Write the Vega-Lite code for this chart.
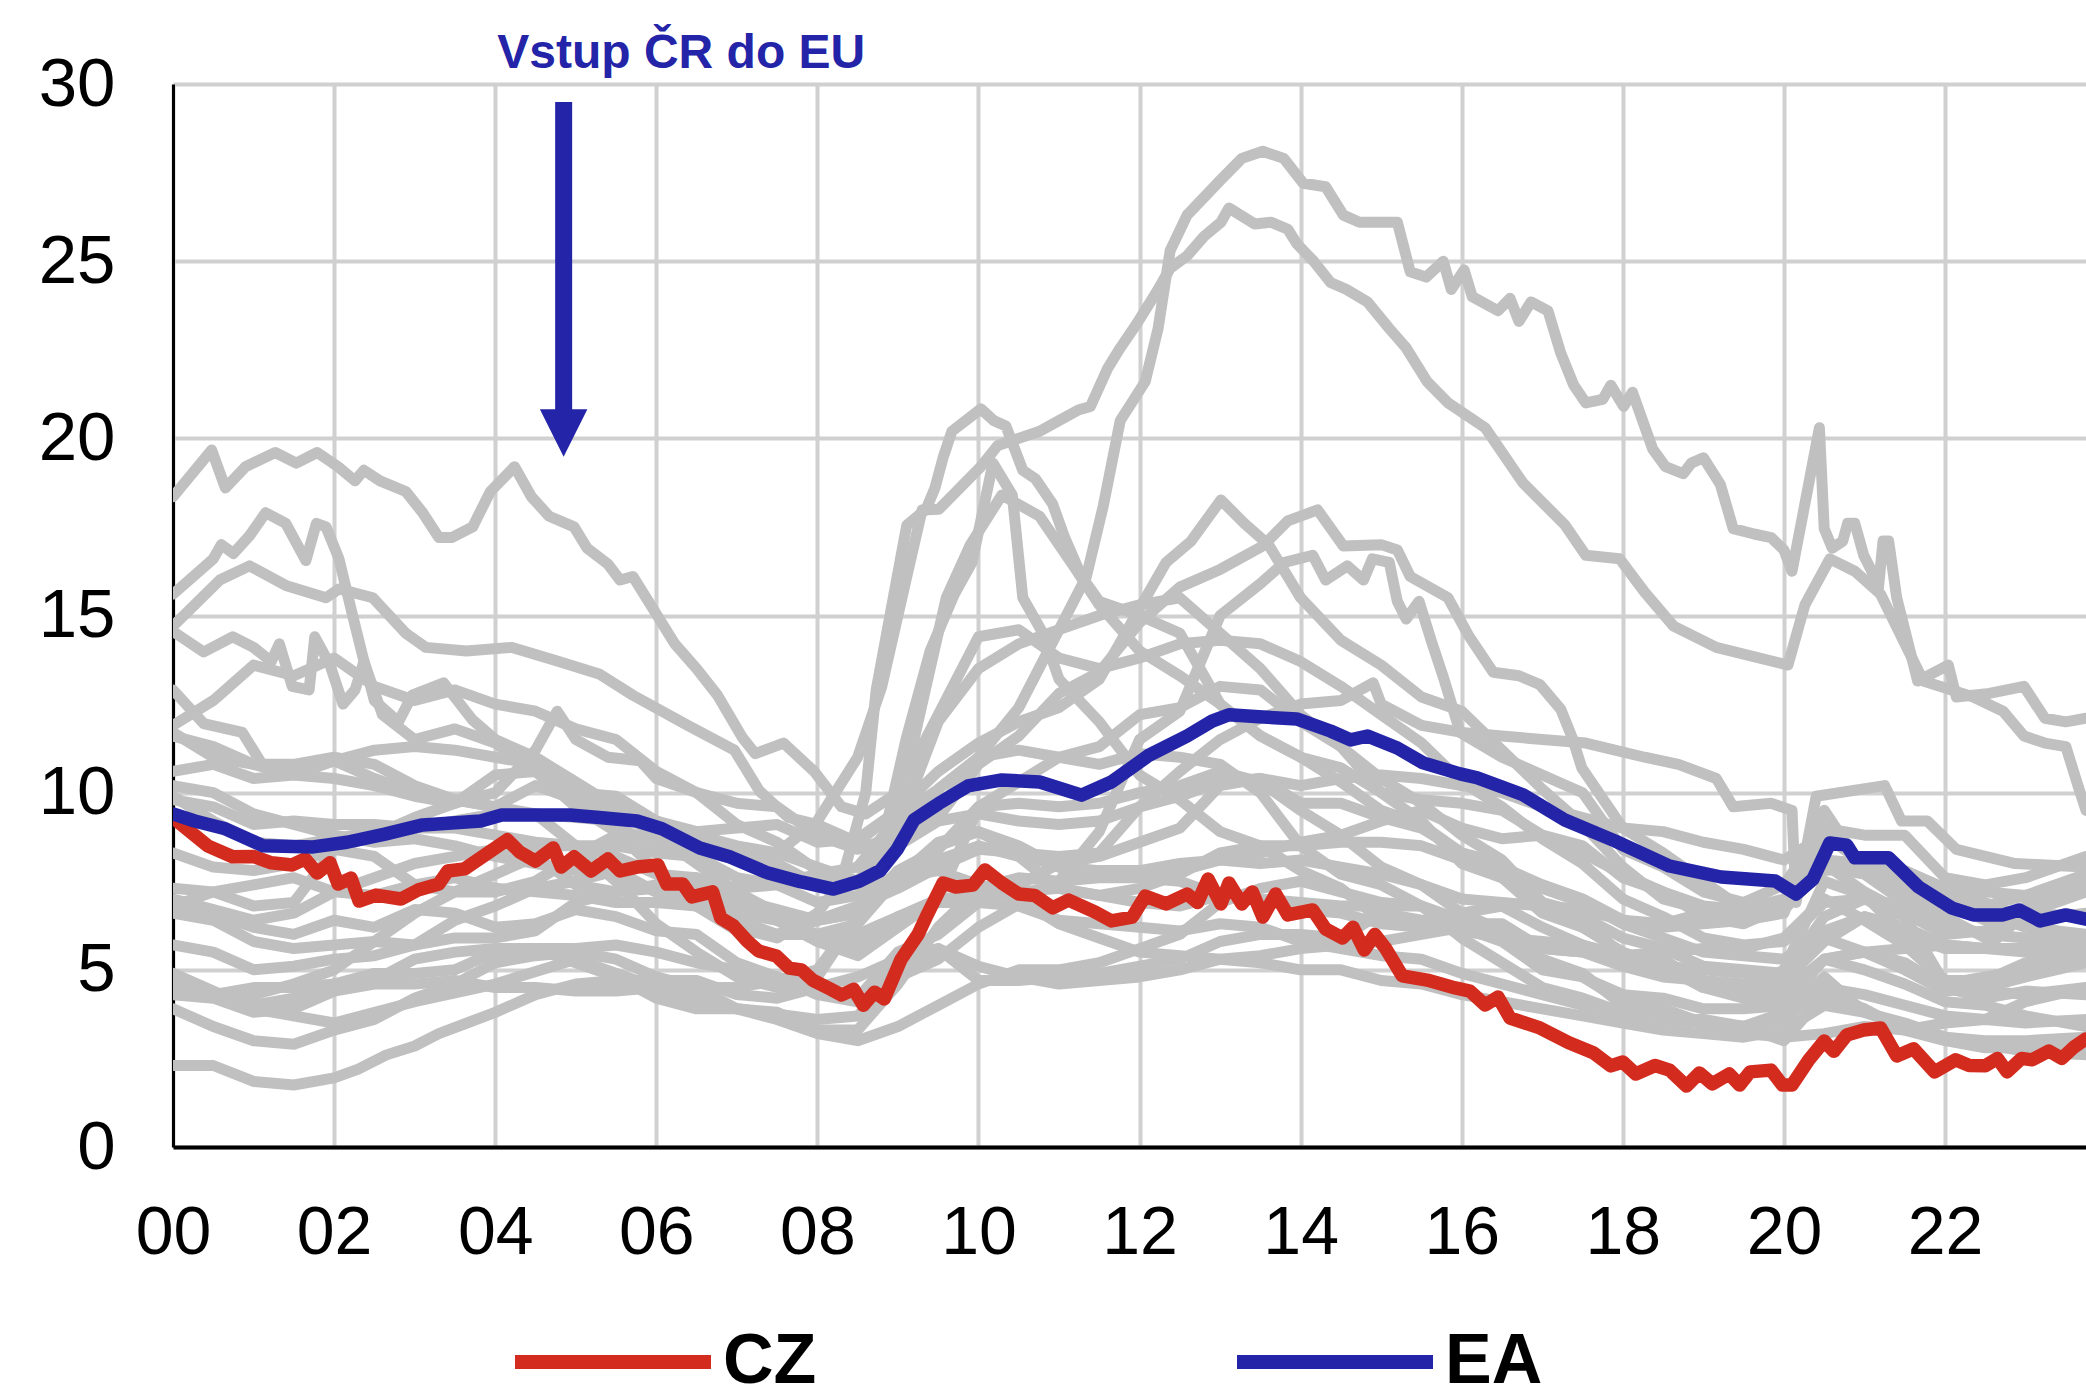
{
"$schema":"https://vega.github.io/schema/vega-lite/v6.json",
"width":1913,"height":1063,
"autosize":{"type":"none"},
"padding":{"left":173,"top":84,"right":0,"bottom":242},
"background":"white",
"config":{"view":{"stroke":null},"font":"Liberation Sans"},
"datasets":{
"gray":[
{"c":"SK","t":2000,"v":18.35},{"c":"SK","t":2000.48,"v":19.67},{"c":"SK","t":2000.65,"v":18.6},{"c":"SK","t":2000.9,"v":19.2},{"c":"SK","t":2001.27,"v":19.6},{"c":"SK","t":2001.53,"v":19.3},{"c":"SK","t":2001.79,"v":19.6},{"c":"SK","t":2002.05,"v":19.2},{"c":"SK","t":2002.26,"v":18.8},{"c":"SK","t":2002.37,"v":19.1},{"c":"SK","t":2002.57,"v":18.8},{"c":"SK","t":2002.89,"v":18.5},{"c":"SK","t":2003.1,"v":17.9},{"c":"SK","t":2003.3,"v":17.2},{"c":"SK","t":2003.46,"v":17.2},{"c":"SK","t":2003.72,"v":17.5},{"c":"SK","t":2003.94,"v":18.5},{"c":"SK","t":2004.24,"v":19.2},{"c":"SK","t":2004.45,"v":18.35},{"c":"SK","t":2004.67,"v":17.8},{"c":"SK","t":2004.98,"v":17.5},{"c":"SK","t":2005.14,"v":16.9},{"c":"SK","t":2005.4,"v":16.45},{"c":"SK","t":2005.55,"v":16.0},{"c":"SK","t":2005.71,"v":16.1},{"c":"SK","t":2005.97,"v":15.15},{"c":"SK","t":2006.23,"v":14.2},{"c":"SK","t":2006.5,"v":13.5},{"c":"SK","t":2006.76,"v":12.75},{"c":"SK","t":2007.07,"v":11.55},{"c":"SK","t":2007.23,"v":11.1},{"c":"SK","t":2007.58,"v":11.4},{"c":"SK","t":2007.96,"v":10.6},{"c":"SK","t":2008.3,"v":9.6},{"c":"SK","t":2008.6,"v":9.4},{"c":"SK","t":2009,"v":10},{"c":"SK","t":2009.5,"v":12.2},{"c":"SK","t":2010,"v":14.4},{"c":"SK","t":2010.5,"v":14.6},{"c":"SK","t":2011,"v":13.8},{"c":"SK","t":2011.5,"v":13.5},{"c":"SK","t":2012,"v":13.8},{"c":"SK","t":2012.5,"v":14.2},{"c":"SK","t":2013,"v":14.3},{"c":"SK","t":2013.5,"v":14.2},{"c":"SK","t":2014,"v":13.7},{"c":"SK","t":2014.5,"v":13},{"c":"SK","t":2015,"v":12.2},{"c":"SK","t":2015.5,"v":11.4},{"c":"SK","t":2016,"v":10.3},{"c":"SK","t":2016.5,"v":9.6},{"c":"SK","t":2017,"v":8.7},{"c":"SK","t":2017.5,"v":8},{"c":"SK","t":2018,"v":7},{"c":"SK","t":2018.5,"v":6.5},{"c":"SK","t":2019,"v":5.9},{"c":"SK","t":2019.5,"v":5.7},{"c":"SK","t":2020,"v":5.8},{"c":"SK","t":2020.5,"v":6.9},{"c":"SK","t":2021,"v":7},{"c":"SK","t":2021.5,"v":6.8},{"c":"SK","t":2022,"v":6.3},{"c":"SK","t":2022.5,"v":6},{"c":"SK","t":2023,"v":5.9},{"c":"SK","t":2023.75,"v":5.8},
{"c":"BG","t":2000,"v":15.6},{"c":"BG","t":2000.5,"v":16.6},{"c":"BG","t":2000.6,"v":17.0},{"c":"BG","t":2000.75,"v":16.75},{"c":"BG","t":2000.95,"v":17.25},{"c":"BG","t":2001.15,"v":17.9},{"c":"BG","t":2001.4,"v":17.6},{"c":"BG","t":2001.65,"v":16.55},{"c":"BG","t":2001.78,"v":17.6},{"c":"BG","t":2001.9,"v":17.5},{"c":"BG","t":2002.06,"v":16.6},{"c":"BG","t":2002.23,"v":15.0},{"c":"BG","t":2002.35,"v":13.9},{"c":"BG","t":2002.5,"v":12.6},{"c":"BG","t":2002.8,"v":12.0},{"c":"BG","t":2002.97,"v":12.75},{"c":"BG","t":2003.36,"v":13.1},{"c":"BG","t":2003.72,"v":12.05},{"c":"BG","t":2004,"v":11.5},{"c":"BG","t":2004.5,"v":11.0},{"c":"BG","t":2005,"v":10.3},{"c":"BG","t":2005.5,"v":9.6},{"c":"BG","t":2006,"v":8.9},{"c":"BG","t":2006.5,"v":8.2},{"c":"BG","t":2007,"v":7.1},{"c":"BG","t":2007.5,"v":6.4},{"c":"BG","t":2008,"v":5.8},{"c":"BG","t":2008.5,"v":5.4},{"c":"BG","t":2009,"v":6.2},{"c":"BG","t":2009.5,"v":7.0},{"c":"BG","t":2010,"v":9.6},{"c":"BG","t":2010.5,"v":10.3},{"c":"BG","t":2011,"v":11.0},{"c":"BG","t":2011.5,"v":11.3},{"c":"BG","t":2012,"v":12.2},{"c":"BG","t":2012.5,"v":12.4},{"c":"BG","t":2013,"v":13.0},{"c":"BG","t":2013.5,"v":12.9},{"c":"BG","t":2014,"v":12.0},{"c":"BG","t":2014.5,"v":11.3},{"c":"BG","t":2015,"v":10.0},{"c":"BG","t":2015.5,"v":9.2},{"c":"BG","t":2016,"v":8.0},{"c":"BG","t":2016.5,"v":7.6},{"c":"BG","t":2017,"v":6.6},{"c":"BG","t":2017.5,"v":6.2},{"c":"BG","t":2018,"v":5.5},{"c":"BG","t":2018.5,"v":5.1},{"c":"BG","t":2019,"v":4.5},{"c":"BG","t":2019.5,"v":4.2},{"c":"BG","t":2020,"v":4.2},{"c":"BG","t":2020.5,"v":5.3},{"c":"BG","t":2021,"v":5.5},{"c":"BG","t":2021.5,"v":5.2},{"c":"BG","t":2022,"v":4.5},{"c":"BG","t":2022.5,"v":4.2},{"c":"BG","t":2023,"v":4.4},{"c":"BG","t":2023.75,"v":4.3},
{"c":"LT","t":2000,"v":14.7},{"c":"LT","t":2000.58,"v":16.0},{"c":"LT","t":2000.95,"v":16.4},{"c":"LT","t":2001.4,"v":15.85},{"c":"LT","t":2001.9,"v":15.5},{"c":"LT","t":2002.06,"v":15.75},{"c":"LT","t":2002.48,"v":15.5},{"c":"LT","t":2002.89,"v":14.5},{"c":"LT","t":2003.14,"v":14.1},{"c":"LT","t":2003.64,"v":14.0},{"c":"LT","t":2004.21,"v":14.1},{"c":"LT","t":2004.79,"v":13.7},{"c":"LT","t":2005.29,"v":13.35},{"c":"LT","t":2005.71,"v":12.75},{"c":"LT","t":2006.39,"v":11.9},{"c":"LT","t":2006.97,"v":11.2},{"c":"LT","t":2007.28,"v":10.05},{"c":"LT","t":2007.64,"v":9.3},{"c":"LT","t":2008,"v":9.1},{"c":"LT","t":2008.5,"v":8.6},{"c":"LT","t":2009,"v":9.5},{"c":"LT","t":2009.3,"v":12.5},{"c":"LT","t":2009.6,"v":15.5},{"c":"LT","t":2009.9,"v":17.0},{"c":"LT","t":2010.29,"v":18.4},{"c":"LT","t":2010.76,"v":17.8},{"c":"LT","t":2011.18,"v":16.4},{"c":"LT","t":2011.5,"v":15.3},{"c":"LT","t":2012,"v":14.0},{"c":"LT","t":2012.5,"v":13.3},{"c":"LT","t":2013,"v":12.5},{"c":"LT","t":2013.5,"v":11.6},{"c":"LT","t":2014,"v":11.0},{"c":"LT","t":2014.5,"v":10.3},{"c":"LT","t":2015,"v":9.5},{"c":"LT","t":2015.5,"v":9.1},{"c":"LT","t":2016,"v":8.3},{"c":"LT","t":2016.5,"v":7.9},{"c":"LT","t":2017,"v":7.4},{"c":"LT","t":2017.5,"v":7.0},{"c":"LT","t":2018,"v":6.4},{"c":"LT","t":2018.5,"v":6.2},{"c":"LT","t":2019,"v":6.3},{"c":"LT","t":2019.5,"v":6.4},{"c":"LT","t":2020,"v":6.6},{"c":"LT","t":2020.5,"v":9.5},{"c":"LT","t":2021,"v":7.8},{"c":"LT","t":2021.5,"v":7.0},{"c":"LT","t":2022,"v":6.5},{"c":"LT","t":2022.5,"v":5.9},{"c":"LT","t":2023,"v":6.8},{"c":"LT","t":2023.75,"v":7.3},
{"c":"LV","t":2000,"v":14.55},{"c":"LV","t":2000.38,"v":13.97},{"c":"LV","t":2000.74,"v":14.4},{"c":"LV","t":2001,"v":14.1},{"c":"LV","t":2001.22,"v":13.7},{"c":"LV","t":2001.32,"v":14.2},{"c":"LV","t":2001.48,"v":13.0},{"c":"LV","t":2001.69,"v":12.9},{"c":"LV","t":2001.76,"v":14.4},{"c":"LV","t":2001.95,"v":13.6},{"c":"LV","t":2002.11,"v":12.5},{"c":"LV","t":2002.26,"v":12.9},{"c":"LV","t":2002.37,"v":13.7},{"c":"LV","t":2002.6,"v":12.2},{"c":"LV","t":2003,"v":11.5},{"c":"LV","t":2003.5,"v":11.8},{"c":"LV","t":2004,"v":11.4},{"c":"LV","t":2004.5,"v":10.6},{"c":"LV","t":2005,"v":9.6},{"c":"LV","t":2005.5,"v":8.9},{"c":"LV","t":2006,"v":7.8},{"c":"LV","t":2006.5,"v":6.8},{"c":"LV","t":2007,"v":6.2},{"c":"LV","t":2007.5,"v":5.9},{"c":"LV","t":2008,"v":6.6},{"c":"LV","t":2008.3,"v":7.5},{"c":"LV","t":2008.6,"v":10.0},{"c":"LV","t":2008.73,"v":12.9},{"c":"LV","t":2009.04,"v":16.7},{"c":"LV","t":2009.11,"v":17.55},{"c":"LV","t":2009.35,"v":18.0},{"c":"LV","t":2009.46,"v":18.6},{"c":"LV","t":2009.56,"v":19.45},{"c":"LV","t":2009.67,"v":20.2},{"c":"LV","t":2010.03,"v":20.83},{"c":"LV","t":2010.19,"v":20.5},{"c":"LV","t":2010.34,"v":20.35},{"c":"LV","t":2010.55,"v":19.1},{"c":"LV","t":2010.71,"v":18.85},{"c":"LV","t":2010.92,"v":18.15},{"c":"LV","t":2011.07,"v":17.2},{"c":"LV","t":2011.28,"v":16.1},{"c":"LV","t":2011.5,"v":15.4},{"c":"LV","t":2012,"v":15.0},{"c":"LV","t":2012.5,"v":14.5},{"c":"LV","t":2013,"v":12.5},{"c":"LV","t":2013.5,"v":11.6},{"c":"LV","t":2014,"v":11.0},{"c":"LV","t":2014.5,"v":10.7},{"c":"LV","t":2015,"v":10.0},{"c":"LV","t":2015.5,"v":9.8},{"c":"LV","t":2016,"v":9.7},{"c":"LV","t":2016.5,"v":9.5},{"c":"LV","t":2017,"v":8.8},{"c":"LV","t":2017.5,"v":8.5},{"c":"LV","t":2018,"v":7.6},{"c":"LV","t":2018.5,"v":7.2},{"c":"LV","t":2019,"v":6.5},{"c":"LV","t":2019.5,"v":6.3},{"c":"LV","t":2020,"v":6.8},{"c":"LV","t":2020.5,"v":8.8},{"c":"LV","t":2021,"v":8.0},{"c":"LV","t":2021.5,"v":7.3},{"c":"LV","t":2022,"v":7.1},{"c":"LV","t":2022.5,"v":6.9},{"c":"LV","t":2023,"v":6.4},{"c":"LV","t":2023.75,"v":6.6},
{"c":"EE","t":2000,"v":12.9},{"c":"EE","t":2000.38,"v":11.95},{"c":"EE","t":2000.86,"v":11.7},{"c":"EE","t":2001.12,"v":10.75},{"c":"EE","t":2001.64,"v":10.65},{"c":"EE","t":2002,"v":10.9},{"c":"EE","t":2002.5,"v":10.4},{"c":"EE","t":2003,"v":10.0},{"c":"EE","t":2003.5,"v":9.8},{"c":"EE","t":2004,"v":9.6},{"c":"EE","t":2004.5,"v":9.4},{"c":"EE","t":2005,"v":8.5},{"c":"EE","t":2005.5,"v":7.5},{"c":"EE","t":2006,"v":6.3},{"c":"EE","t":2006.5,"v":5.5},{"c":"EE","t":2007,"v":4.8},{"c":"EE","t":2007.5,"v":4.5},{"c":"EE","t":2008,"v":4.8},{"c":"EE","t":2008.5,"v":6.5},{"c":"EE","t":2008.8,"v":8.5},{"c":"EE","t":2009.1,"v":11.5},{"c":"EE","t":2009.4,"v":14.0},{"c":"EE","t":2009.7,"v":15.6},{"c":"EE","t":2009.92,"v":16.5},{"c":"EE","t":2010.18,"v":19.3},{"c":"EE","t":2010.42,"v":18.4},{"c":"EE","t":2010.55,"v":15.5},{"c":"EE","t":2010.8,"v":14.5},{"c":"EE","t":2011,"v":13.2},{"c":"EE","t":2011.5,"v":12.0},{"c":"EE","t":2012,"v":10.5},{"c":"EE","t":2012.5,"v":9.8},{"c":"EE","t":2013,"v":8.9},{"c":"EE","t":2013.5,"v":8.5},{"c":"EE","t":2014,"v":7.8},{"c":"EE","t":2014.5,"v":7.3},{"c":"EE","t":2015,"v":6.4},{"c":"EE","t":2015.5,"v":6.2},{"c":"EE","t":2016,"v":6.6},{"c":"EE","t":2016.5,"v":6.8},{"c":"EE","t":2017,"v":6.2},{"c":"EE","t":2017.5,"v":5.7},{"c":"EE","t":2018,"v":5.4},{"c":"EE","t":2018.5,"v":5.3},{"c":"EE","t":2019,"v":4.6},{"c":"EE","t":2019.5,"v":4.4},{"c":"EE","t":2020,"v":5.0},{"c":"EE","t":2020.5,"v":7.5},{"c":"EE","t":2021,"v":7.1},{"c":"EE","t":2021.5,"v":6.0},{"c":"EE","t":2022,"v":5.6},{"c":"EE","t":2022.5,"v":5.6},{"c":"EE","t":2023,"v":6.6},{"c":"EE","t":2023.75,"v":7.2},
{"c":"GR","t":2000,"v":11.6},{"c":"GR","t":2000.5,"v":11.3},{"c":"GR","t":2001,"v":10.8},{"c":"GR","t":2001.5,"v":10.5},{"c":"GR","t":2002,"v":10.4},{"c":"GR","t":2002.5,"v":10.2},{"c":"GR","t":2003,"v":9.9},{"c":"GR","t":2003.5,"v":9.7},{"c":"GR","t":2004,"v":10.5},{"c":"GR","t":2004.5,"v":10.6},{"c":"GR","t":2005,"v":10.0},{"c":"GR","t":2005.5,"v":9.9},{"c":"GR","t":2006,"v":9.2},{"c":"GR","t":2006.5,"v":8.8},{"c":"GR","t":2007,"v":8.5},{"c":"GR","t":2007.5,"v":8.3},{"c":"GR","t":2008,"v":7.9},{"c":"GR","t":2008.5,"v":7.5},{"c":"GR","t":2009,"v":8.9},{"c":"GR","t":2009.5,"v":9.5},{"c":"GR","t":2010,"v":11.0},{"c":"GR","t":2010.5,"v":12.4},{"c":"GR","t":2011,"v":14.6},{"c":"GR","t":2011.34,"v":16.1},{"c":"GR","t":2011.55,"v":18.1},{"c":"GR","t":2011.76,"v":20.5},{"c":"GR","t":2012.07,"v":21.6},{"c":"GR","t":2012.23,"v":23.1},{"c":"GR","t":2012.38,"v":25.3},{"c":"GR","t":2012.59,"v":26.3},{"c":"GR","t":2012.8,"v":26.8},{"c":"GR","t":2013.01,"v":27.3},{"c":"GR","t":2013.27,"v":27.9},{"c":"GR","t":2013.53,"v":28.1},{"c":"GR","t":2013.79,"v":27.9},{"c":"GR","t":2014.03,"v":27.2},{"c":"GR","t":2014.31,"v":27.1},{"c":"GR","t":2014.53,"v":26.3},{"c":"GR","t":2014.73,"v":26.1},{"c":"GR","t":2015.2,"v":26.1},{"c":"GR","t":2015.36,"v":24.7},{"c":"GR","t":2015.56,"v":24.55},{"c":"GR","t":2015.77,"v":25.0},{"c":"GR","t":2015.87,"v":24.2},{"c":"GR","t":2016.03,"v":24.75},{"c":"GR","t":2016.13,"v":24.0},{"c":"GR","t":2016.45,"v":23.6},{"c":"GR","t":2016.6,"v":23.95},{"c":"GR","t":2016.71,"v":23.3},{"c":"GR","t":2016.86,"v":23.85},{"c":"GR","t":2017.07,"v":23.6},{"c":"GR","t":2017.23,"v":22.4},{"c":"GR","t":2017.39,"v":21.5},{"c":"GR","t":2017.54,"v":21.0},{"c":"GR","t":2017.75,"v":21.1},{"c":"GR","t":2017.85,"v":21.5},{"c":"GR","t":2018.01,"v":20.9},{"c":"GR","t":2018.12,"v":21.3},{"c":"GR","t":2018.37,"v":19.7},{"c":"GR","t":2018.53,"v":19.2},{"c":"GR","t":2018.75,"v":19.0},{"c":"GR","t":2018.85,"v":19.3},{"c":"GR","t":2019,"v":19.45},{"c":"GR","t":2019.21,"v":18.7},{"c":"GR","t":2019.37,"v":17.45},{"c":"GR","t":2019.63,"v":17.3},{"c":"GR","t":2019.84,"v":17.2},{"c":"GR","t":2020,"v":16.85},{"c":"GR","t":2020.1,"v":16.25},{"c":"GR","t":2020.26,"v":18.15},{"c":"GR","t":2020.44,"v":20.3},{"c":"GR","t":2020.5,"v":17.45},{"c":"GR","t":2020.6,"v":16.9},{"c":"GR","t":2020.73,"v":17.1},{"c":"GR","t":2020.79,"v":17.6},{"c":"GR","t":2020.88,"v":17.6},{"c":"GR","t":2020.99,"v":16.7},{"c":"GR","t":2021.09,"v":16.25},{"c":"GR","t":2021.17,"v":15.7},{"c":"GR","t":2021.23,"v":17.1},{"c":"GR","t":2021.3,"v":17.1},{"c":"GR","t":2021.4,"v":15.5},{"c":"GR","t":2021.66,"v":13.15},{"c":"GR","t":2022.04,"v":13.6},{"c":"GR","t":2022.14,"v":12.7},{"c":"GR","t":2022.55,"v":12.8},{"c":"GR","t":2022.98,"v":13.0},{"c":"GR","t":2023.24,"v":12.1},{"c":"GR","t":2023.5,"v":12.0},{"c":"GR","t":2023.75,"v":12.1},
{"c":"ES","t":2000,"v":10.6},{"c":"ES","t":2000.5,"v":10.8},{"c":"ES","t":2001,"v":10.4},{"c":"ES","t":2001.5,"v":10.5},{"c":"ES","t":2002,"v":10.9},{"c":"ES","t":2002.5,"v":11.2},{"c":"ES","t":2003,"v":11.3},{"c":"ES","t":2003.5,"v":11.2},{"c":"ES","t":2004,"v":11.0},{"c":"ES","t":2004.5,"v":10.8},{"c":"ES","t":2005,"v":9.8},{"c":"ES","t":2005.5,"v":9.0},{"c":"ES","t":2006,"v":8.6},{"c":"ES","t":2006.5,"v":8.4},{"c":"ES","t":2007,"v":8.1},{"c":"ES","t":2007.5,"v":8.3},{"c":"ES","t":2008,"v":9.2},{"c":"ES","t":2008.5,"v":11.0},{"c":"ES","t":2008.8,"v":13.0},{"c":"ES","t":2009.1,"v":16.0},{"c":"ES","t":2009.3,"v":17.98},{"c":"ES","t":2009.51,"v":18.0},{"c":"ES","t":2009.77,"v":18.6},{"c":"ES","t":2010.03,"v":19.2},{"c":"ES","t":2010.24,"v":19.8},{"c":"ES","t":2010.76,"v":20.2},{"c":"ES","t":2010.92,"v":20.4},{"c":"ES","t":2011.24,"v":20.8},{"c":"ES","t":2011.39,"v":20.9},{"c":"ES","t":2011.6,"v":21.96},{"c":"ES","t":2011.76,"v":22.55},{"c":"ES","t":2011.97,"v":23.25},{"c":"ES","t":2012.23,"v":24.2},{"c":"ES","t":2012.38,"v":24.8},{"c":"ES","t":2012.59,"v":25.15},{"c":"ES","t":2012.8,"v":25.7},{"c":"ES","t":2013.01,"v":26.1},{"c":"ES","t":2013.11,"v":26.5},{"c":"ES","t":2013.43,"v":26.05},{"c":"ES","t":2013.63,"v":26.1},{"c":"ES","t":2013.84,"v":25.9},{"c":"ES","t":2013.95,"v":25.5},{"c":"ES","t":2014.16,"v":25.0},{"c":"ES","t":2014.37,"v":24.4},{"c":"ES","t":2014.57,"v":24.2},{"c":"ES","t":2014.83,"v":23.85},{"c":"ES","t":2015.1,"v":23.1},{"c":"ES","t":2015.31,"v":22.55},{"c":"ES","t":2015.57,"v":21.6},{"c":"ES","t":2015.83,"v":21.0},{"c":"ES","t":2016.29,"v":20.3},{"c":"ES","t":2016.76,"v":18.74},{"c":"ES","t":2017.28,"v":17.56},{"c":"ES","t":2017.54,"v":16.7},{"c":"ES","t":2017.96,"v":16.6},{"c":"ES","t":2018.27,"v":15.66},{"c":"ES","t":2018.63,"v":14.7},{"c":"ES","t":2019.16,"v":14.1},{"c":"ES","t":2020.05,"v":13.6},{"c":"ES","t":2020.26,"v":15.3},{"c":"ES","t":2020.57,"v":16.6},{"c":"ES","t":2020.88,"v":16.25},{"c":"ES","t":2021.2,"v":15.6},{"c":"ES","t":2021.73,"v":13.15},{"c":"ES","t":2022.35,"v":12.7},{"c":"ES","t":2022.72,"v":12.3},{"c":"ES","t":2022.98,"v":11.6},{"c":"ES","t":2023.24,"v":11.4},{"c":"ES","t":2023.5,"v":11.3},{"c":"ES","t":2023.65,"v":10.2},{"c":"ES","t":2023.75,"v":9.5},
{"c":"HR","t":2000,"v":11.9},{"c":"HR","t":2000.5,"v":12.6},{"c":"HR","t":2001,"v":13.6},{"c":"HR","t":2001.5,"v":13.3},{"c":"HR","t":2002,"v":13.8},{"c":"HR","t":2002.5,"v":13.0},{"c":"HR","t":2003,"v":12.6},{"c":"HR","t":2003.5,"v":12.9},{"c":"HR","t":2004,"v":12.5},{"c":"HR","t":2004.5,"v":12.3},{"c":"HR","t":2005,"v":11.8},{"c":"HR","t":2005.5,"v":11.5},{"c":"HR","t":2006,"v":10.6},{"c":"HR","t":2006.5,"v":10.0},{"c":"HR","t":2007,"v":9.7},{"c":"HR","t":2007.5,"v":9.6},{"c":"HR","t":2008,"v":8.8},{"c":"HR","t":2008.5,"v":8.4},{"c":"HR","t":2009,"v":8.8},{"c":"HR","t":2009.5,"v":9.3},{"c":"HR","t":2010,"v":10.8},{"c":"HR","t":2010.5,"v":11.6},{"c":"HR","t":2011,"v":12.8},{"c":"HR","t":2011.5,"v":13.4},{"c":"HR","t":2012,"v":14.8},{"c":"HR","t":2012.5,"v":15.8},{"c":"HR","t":2013,"v":16.3},{"c":"HR","t":2013.53,"v":16.96},{"c":"HR","t":2013.84,"v":17.67},{"c":"HR","t":2014.21,"v":17.98},{"c":"HR","t":2014.53,"v":16.96},{"c":"HR","t":2015,"v":17.0},{"c":"HR","t":2015.2,"v":16.85},{"c":"HR","t":2015.36,"v":16.1},{"c":"HR","t":2015.83,"v":15.5},{"c":"HR","t":2016.08,"v":14.45},{"c":"HR","t":2016.39,"v":13.4},{"c":"HR","t":2016.71,"v":13.3},{"c":"HR","t":2016.97,"v":13.05},{"c":"HR","t":2017.23,"v":12.35},{"c":"HR","t":2017.38,"v":11.5},{"c":"HR","t":2017.49,"v":10.7},{"c":"HR","t":2017.64,"v":10.2},{"c":"HR","t":2018,"v":9.0},{"c":"HR","t":2018.5,"v":8.3},{"c":"HR","t":2019,"v":7.5},{"c":"HR","t":2019.5,"v":6.7},{"c":"HR","t":2020,"v":6.8},{"c":"HR","t":2020.5,"v":7.8},{"c":"HR","t":2021,"v":7.9},{"c":"HR","t":2021.5,"v":7.3},{"c":"HR","t":2022,"v":6.9},{"c":"HR","t":2022.5,"v":6.6},{"c":"HR","t":2023,"v":6.2},{"c":"HR","t":2023.75,"v":6.0},
{"c":"PT","t":2000,"v":4.6},{"c":"PT","t":2000.5,"v":4.3},{"c":"PT","t":2001,"v":4.3},{"c":"PT","t":2001.5,"v":4.6},{"c":"PT","t":2002,"v":5.0},{"c":"PT","t":2002.5,"v":5.8},{"c":"PT","t":2003,"v":6.6},{"c":"PT","t":2003.5,"v":7.2},{"c":"PT","t":2004,"v":7.2},{"c":"PT","t":2004.5,"v":7.5},{"c":"PT","t":2005,"v":8.2},{"c":"PT","t":2005.5,"v":8.8},{"c":"PT","t":2006,"v":8.6},{"c":"PT","t":2006.5,"v":8.9},{"c":"PT","t":2007,"v":9.0},{"c":"PT","t":2007.5,"v":9.1},{"c":"PT","t":2008,"v":8.6},{"c":"PT","t":2008.5,"v":8.7},{"c":"PT","t":2009,"v":9.5},{"c":"PT","t":2009.5,"v":10.6},{"c":"PT","t":2010,"v":11.4},{"c":"PT","t":2010.5,"v":12.0},{"c":"PT","t":2011,"v":12.4},{"c":"PT","t":2011.5,"v":13.2},{"c":"PT","t":2012,"v":15.2},{"c":"PT","t":2012.33,"v":16.5},{"c":"PT","t":2012.64,"v":17.1},{"c":"PT","t":2013.01,"v":18.26},{"c":"PT","t":2013.3,"v":17.6},{"c":"PT","t":2013.6,"v":17.0},{"c":"PT","t":2014,"v":15.5},{"c":"PT","t":2014.5,"v":14.3},{"c":"PT","t":2015,"v":13.6},{"c":"PT","t":2015.5,"v":12.7},{"c":"PT","t":2016,"v":12.3},{"c":"PT","t":2016.5,"v":11.2},{"c":"PT","t":2017,"v":10.1},{"c":"PT","t":2017.5,"v":9.1},{"c":"PT","t":2018,"v":7.9},{"c":"PT","t":2018.5,"v":7.0},{"c":"PT","t":2019,"v":6.7},{"c":"PT","t":2019.5,"v":6.5},{"c":"PT","t":2020,"v":6.7},{"c":"PT","t":2020.5,"v":8.0},{"c":"PT","t":2021,"v":7.2},{"c":"PT","t":2021.5,"v":6.6},{"c":"PT","t":2022,"v":6.0},{"c":"PT","t":2022.5,"v":6.1},{"c":"PT","t":2023,"v":6.6},{"c":"PT","t":2023.75,"v":6.5},
{"c":"CY","t":2000,"v":4.9},{"c":"CY","t":2001,"v":3.9},{"c":"CY","t":2002,"v":3.5},{"c":"CY","t":2003,"v":4.1},{"c":"CY","t":2004,"v":4.6},{"c":"CY","t":2005,"v":5.3},{"c":"CY","t":2006,"v":4.5},{"c":"CY","t":2007,"v":3.9},{"c":"CY","t":2008,"v":3.6},{"c":"CY","t":2008.5,"v":3.7},{"c":"CY","t":2009,"v":4.8},{"c":"CY","t":2009.5,"v":5.3},{"c":"CY","t":2010,"v":6.2},{"c":"CY","t":2011,"v":7.5},{"c":"CY","t":2011.5,"v":8.9},{"c":"CY","t":2012,"v":11.5},{"c":"CY","t":2012.5,"v":12.3},{"c":"CY","t":2013,"v":15.0},{"c":"CY","t":2013.5,"v":15.9},{"c":"CY","t":2013.8,"v":16.5},{"c":"CY","t":2014.15,"v":16.7},{"c":"CY","t":2014.31,"v":16.0},{"c":"CY","t":2014.58,"v":16.4},{"c":"CY","t":2014.78,"v":16.0},{"c":"CY","t":2014.89,"v":16.6},{"c":"CY","t":2015.1,"v":16.5},{"c":"CY","t":2015.2,"v":15.4},{"c":"CY","t":2015.31,"v":14.9},{"c":"CY","t":2015.47,"v":15.4},{"c":"CY","t":2015.62,"v":14.3},{"c":"CY","t":2015.78,"v":13.2},{"c":"CY","t":2015.98,"v":11.7},{"c":"CY","t":2016.5,"v":11.0},{"c":"CY","t":2017,"v":10.5},{"c":"CY","t":2017.5,"v":10.0},{"c":"CY","t":2018,"v":8.4},{"c":"CY","t":2018.5,"v":7.9},{"c":"CY","t":2019,"v":7.2},{"c":"CY","t":2019.5,"v":6.9},{"c":"CY","t":2020,"v":6.7},{"c":"CY","t":2020.5,"v":7.9},{"c":"CY","t":2021,"v":7.7},{"c":"CY","t":2021.5,"v":6.9},{"c":"CY","t":2022,"v":6.9},{"c":"CY","t":2022.5,"v":6.4},{"c":"CY","t":2023,"v":6.3},{"c":"CY","t":2023.75,"v":5.9},
{"c":"IT","t":2000,"v":10.2},{"c":"IT","t":2000.5,"v":10.0},{"c":"IT","t":2001,"v":9.4},{"c":"IT","t":2001.5,"v":9.1},{"c":"IT","t":2002,"v":8.8},{"c":"IT","t":2002.5,"v":8.6},{"c":"IT","t":2003,"v":8.7},{"c":"IT","t":2003.5,"v":8.5},{"c":"IT","t":2004,"v":8.2},{"c":"IT","t":2004.5,"v":8.0},{"c":"IT","t":2005,"v":7.8},{"c":"IT","t":2005.5,"v":7.7},{"c":"IT","t":2006,"v":7.2},{"c":"IT","t":2006.5,"v":6.8},{"c":"IT","t":2007,"v":6.1},{"c":"IT","t":2007.5,"v":6.0},{"c":"IT","t":2008,"v":6.4},{"c":"IT","t":2008.5,"v":6.8},{"c":"IT","t":2009,"v":7.3},{"c":"IT","t":2009.5,"v":7.9},{"c":"IT","t":2010,"v":8.4},{"c":"IT","t":2010.5,"v":8.3},{"c":"IT","t":2011,"v":8.2},{"c":"IT","t":2011.5,"v":8.3},{"c":"IT","t":2012,"v":9.6},{"c":"IT","t":2012.5,"v":10.6},{"c":"IT","t":2013,"v":11.5},{"c":"IT","t":2013.5,"v":12.1},{"c":"IT","t":2014,"v":12.5},{"c":"IT","t":2014.5,"v":12.6},{"c":"IT","t":2014.9,"v":13.1},{"c":"IT","t":2015,"v":12.5},{"c":"IT","t":2015.5,"v":11.9},{"c":"IT","t":2016,"v":11.7},{"c":"IT","t":2016.5,"v":11.6},{"c":"IT","t":2017,"v":11.5},{"c":"IT","t":2017.54,"v":11.4},{"c":"IT","t":2018.27,"v":11.0},{"c":"IT","t":2018.69,"v":10.8},{"c":"IT","t":2019.16,"v":10.4},{"c":"IT","t":2019.37,"v":9.6},{"c":"IT","t":2019.84,"v":9.7},{"c":"IT","t":2020.1,"v":9.5},{"c":"IT","t":2020.15,"v":6.9},{"c":"IT","t":2020.4,"v":9.9},{"c":"IT","t":2021.25,"v":10.2},{"c":"IT","t":2021.46,"v":9.2},{"c":"IT","t":2021.78,"v":9.2},{"c":"IT","t":2022.14,"v":8.4},{"c":"IT","t":2022.87,"v":8.0},{"c":"IT","t":2023.75,"v":7.9},
{"c":"FR","t":2000,"v":9.9},{"c":"FR","t":2000.5,"v":9.2},{"c":"FR","t":2001,"v":8.6},{"c":"FR","t":2001.5,"v":8.5},{"c":"FR","t":2002,"v":8.7},{"c":"FR","t":2002.5,"v":8.9},{"c":"FR","t":2003,"v":9.0},{"c":"FR","t":2003.5,"v":9.2},{"c":"FR","t":2004,"v":9.4},{"c":"FR","t":2004.5,"v":9.4},{"c":"FR","t":2005,"v":9.3},{"c":"FR","t":2005.5,"v":9.2},{"c":"FR","t":2006,"v":9.2},{"c":"FR","t":2006.5,"v":8.9},{"c":"FR","t":2007,"v":8.4},{"c":"FR","t":2007.5,"v":8.0},{"c":"FR","t":2008,"v":7.4},{"c":"FR","t":2008.5,"v":7.5},{"c":"FR","t":2009,"v":8.5},{"c":"FR","t":2009.5,"v":9.2},{"c":"FR","t":2010,"v":9.4},{"c":"FR","t":2010.5,"v":9.2},{"c":"FR","t":2011,"v":9.1},{"c":"FR","t":2011.5,"v":9.2},{"c":"FR","t":2012,"v":9.6},{"c":"FR","t":2012.5,"v":9.9},{"c":"FR","t":2013,"v":10.3},{"c":"FR","t":2013.5,"v":10.4},{"c":"FR","t":2014,"v":10.2},{"c":"FR","t":2014.5,"v":10.4},{"c":"FR","t":2015,"v":10.5},{"c":"FR","t":2015.5,"v":10.4},{"c":"FR","t":2016,"v":10.2},{"c":"FR","t":2016.5,"v":10.0},{"c":"FR","t":2017,"v":9.6},{"c":"FR","t":2017.5,"v":9.3},{"c":"FR","t":2018,"v":9.0},{"c":"FR","t":2018.5,"v":8.9},{"c":"FR","t":2019,"v":8.6},{"c":"FR","t":2019.5,"v":8.4},{"c":"FR","t":2020,"v":8.1},{"c":"FR","t":2020.5,"v":8.8},{"c":"FR","t":2021,"v":8.0},{"c":"FR","t":2021.5,"v":7.8},{"c":"FR","t":2022,"v":7.3},{"c":"FR","t":2022.5,"v":7.2},{"c":"FR","t":2023,"v":7.1},{"c":"FR","t":2023.75,"v":7.5},
{"c":"FI","t":2000,"v":9.8},{"c":"FI","t":2000.5,"v":9.6},{"c":"FI","t":2001,"v":9.1},{"c":"FI","t":2001.5,"v":9.2},{"c":"FI","t":2002,"v":9.1},{"c":"FI","t":2002.5,"v":9.1},{"c":"FI","t":2003,"v":9.0},{"c":"FI","t":2003.5,"v":9.0},{"c":"FI","t":2004,"v":8.8},{"c":"FI","t":2004.5,"v":8.6},{"c":"FI","t":2005,"v":8.5},{"c":"FI","t":2005.5,"v":8.2},{"c":"FI","t":2006,"v":7.7},{"c":"FI","t":2006.5,"v":7.6},{"c":"FI","t":2007,"v":7.0},{"c":"FI","t":2007.5,"v":6.7},{"c":"FI","t":2008,"v":6.4},{"c":"FI","t":2008.5,"v":6.6},{"c":"FI","t":2009,"v":7.6},{"c":"FI","t":2009.5,"v":8.5},{"c":"FI","t":2010,"v":8.9},{"c":"FI","t":2010.5,"v":8.3},{"c":"FI","t":2011,"v":7.9},{"c":"FI","t":2011.5,"v":7.7},{"c":"FI","t":2012,"v":7.6},{"c":"FI","t":2012.5,"v":7.8},{"c":"FI","t":2013,"v":8.1},{"c":"FI","t":2013.5,"v":8.3},{"c":"FI","t":2014,"v":8.6},{"c":"FI","t":2014.5,"v":8.8},{"c":"FI","t":2015,"v":9.2},{"c":"FI","t":2015.5,"v":9.5},{"c":"FI","t":2016,"v":9.0},{"c":"FI","t":2016.5,"v":8.7},{"c":"FI","t":2017,"v":8.8},{"c":"FI","t":2017.5,"v":8.3},{"c":"FI","t":2018,"v":7.7},{"c":"FI","t":2018.5,"v":7.2},{"c":"FI","t":2019,"v":6.8},{"c":"FI","t":2019.5,"v":6.7},{"c":"FI","t":2020,"v":7.0},{"c":"FI","t":2020.5,"v":8.1},{"c":"FI","t":2021,"v":8.0},{"c":"FI","t":2021.5,"v":7.6},{"c":"FI","t":2022,"v":7.0},{"c":"FI","t":2022.5,"v":6.8},{"c":"FI","t":2023,"v":7.1},{"c":"FI","t":2023.75,"v":7.7},
{"c":"DE","t":2000,"v":8.3},{"c":"DE","t":2000.5,"v":7.9},{"c":"DE","t":2001,"v":7.8},{"c":"DE","t":2001.5,"v":8.0},{"c":"DE","t":2002,"v":8.4},{"c":"DE","t":2002.5,"v":8.8},{"c":"DE","t":2003,"v":9.3},{"c":"DE","t":2003.5,"v":9.7},{"c":"DE","t":2004,"v":10.0},{"c":"DE","t":2004.5,"v":11.2},{"c":"DE","t":2004.77,"v":12.3},{"c":"DE","t":2005,"v":11.5},{"c":"DE","t":2005.4,"v":11.0},{"c":"DE","t":2005.8,"v":10.9},{"c":"DE","t":2006,"v":10.4},{"c":"DE","t":2006.5,"v":10.0},{"c":"DE","t":2007,"v":9.1},{"c":"DE","t":2007.5,"v":8.6},{"c":"DE","t":2008,"v":7.8},{"c":"DE","t":2008.5,"v":7.4},{"c":"DE","t":2009,"v":7.6},{"c":"DE","t":2009.5,"v":7.8},{"c":"DE","t":2010,"v":7.4},{"c":"DE","t":2010.5,"v":7.0},{"c":"DE","t":2011,"v":6.3},{"c":"DE","t":2011.5,"v":5.9},{"c":"DE","t":2012,"v":5.5},{"c":"DE","t":2012.5,"v":5.4},{"c":"DE","t":2013,"v":5.3},{"c":"DE","t":2013.5,"v":5.2},{"c":"DE","t":2014,"v":5.0},{"c":"DE","t":2014.5,"v":5.0},{"c":"DE","t":2015,"v":4.7},{"c":"DE","t":2015.5,"v":4.6},{"c":"DE","t":2016,"v":4.3},{"c":"DE","t":2016.5,"v":4.1},{"c":"DE","t":2017,"v":3.9},{"c":"DE","t":2017.5,"v":3.7},{"c":"DE","t":2018,"v":3.5},{"c":"DE","t":2018.5,"v":3.3},{"c":"DE","t":2019,"v":3.2},{"c":"DE","t":2019.5,"v":3.1},{"c":"DE","t":2020,"v":3.3},{"c":"DE","t":2020.5,"v":4.0},{"c":"DE","t":2021,"v":3.8},{"c":"DE","t":2021.5,"v":3.5},{"c":"DE","t":2022,"v":3.1},{"c":"DE","t":2022.5,"v":3.0},{"c":"DE","t":2023,"v":3.0},{"c":"DE","t":2023.75,"v":3.1},
{"c":"BE","t":2000,"v":7.0},{"c":"BE","t":2000.5,"v":6.7},{"c":"BE","t":2001,"v":6.4},{"c":"BE","t":2001.5,"v":6.6},{"c":"BE","t":2002,"v":7.2},{"c":"BE","t":2002.5,"v":7.6},{"c":"BE","t":2003,"v":8.0},{"c":"BE","t":2003.5,"v":8.2},{"c":"BE","t":2004,"v":8.4},{"c":"BE","t":2004.5,"v":8.5},{"c":"BE","t":2005,"v":8.5},{"c":"BE","t":2005.5,"v":8.5},{"c":"BE","t":2006,"v":8.3},{"c":"BE","t":2006.5,"v":8.2},{"c":"BE","t":2007,"v":7.6},{"c":"BE","t":2007.5,"v":7.4},{"c":"BE","t":2008,"v":6.9},{"c":"BE","t":2008.5,"v":7.1},{"c":"BE","t":2009,"v":7.6},{"c":"BE","t":2009.5,"v":8.1},{"c":"BE","t":2010,"v":8.5},{"c":"BE","t":2010.5,"v":8.2},{"c":"BE","t":2011,"v":7.3},{"c":"BE","t":2011.5,"v":7.1},{"c":"BE","t":2012,"v":7.3},{"c":"BE","t":2012.5,"v":7.7},{"c":"BE","t":2013,"v":8.3},{"c":"BE","t":2013.5,"v":8.5},{"c":"BE","t":2014,"v":8.5},{"c":"BE","t":2014.5,"v":8.6},{"c":"BE","t":2015,"v":8.6},{"c":"BE","t":2015.5,"v":8.5},{"c":"BE","t":2016,"v":8.1},{"c":"BE","t":2016.5,"v":7.6},{"c":"BE","t":2017,"v":7.3},{"c":"BE","t":2017.5,"v":6.9},{"c":"BE","t":2018,"v":6.3},{"c":"BE","t":2018.5,"v":5.9},{"c":"BE","t":2019,"v":5.5},{"c":"BE","t":2019.5,"v":5.4},{"c":"BE","t":2020,"v":5.3},{"c":"BE","t":2020.5,"v":6.1},{"c":"BE","t":2021,"v":6.5},{"c":"BE","t":2021.5,"v":6.2},{"c":"BE","t":2022,"v":5.7},{"c":"BE","t":2022.5,"v":5.6},{"c":"BE","t":2023,"v":5.6},{"c":"BE","t":2023.75,"v":5.6},
{"c":"SE","t":2000,"v":5.7},{"c":"SE","t":2000.5,"v":5.5},{"c":"SE","t":2001,"v":5.0},{"c":"SE","t":2001.5,"v":5.1},{"c":"SE","t":2002,"v":5.3},{"c":"SE","t":2002.5,"v":5.4},{"c":"SE","t":2003,"v":5.7},{"c":"SE","t":2003.5,"v":6.4},{"c":"SE","t":2004,"v":6.8},{"c":"SE","t":2004.5,"v":7.3},{"c":"SE","t":2005,"v":7.5},{"c":"SE","t":2005.5,"v":7.8},{"c":"SE","t":2006,"v":7.2},{"c":"SE","t":2006.5,"v":7.0},{"c":"SE","t":2007,"v":6.4},{"c":"SE","t":2007.5,"v":6.0},{"c":"SE","t":2008,"v":6.0},{"c":"SE","t":2008.5,"v":6.3},{"c":"SE","t":2009,"v":7.6},{"c":"SE","t":2009.5,"v":8.6},{"c":"SE","t":2010,"v":8.9},{"c":"SE","t":2010.5,"v":8.5},{"c":"SE","t":2011,"v":7.9},{"c":"SE","t":2011.5,"v":7.8},{"c":"SE","t":2012,"v":7.8},{"c":"SE","t":2012.5,"v":8.0},{"c":"SE","t":2013,"v":8.1},{"c":"SE","t":2013.5,"v":8.0},{"c":"SE","t":2014,"v":8.1},{"c":"SE","t":2014.5,"v":7.9},{"c":"SE","t":2015,"v":7.7},{"c":"SE","t":2015.5,"v":7.4},{"c":"SE","t":2016,"v":7.0},{"c":"SE","t":2016.5,"v":6.9},{"c":"SE","t":2017,"v":6.8},{"c":"SE","t":2017.5,"v":6.7},{"c":"SE","t":2018,"v":6.4},{"c":"SE","t":2018.5,"v":6.3},{"c":"SE","t":2019,"v":6.6},{"c":"SE","t":2019.5,"v":6.9},{"c":"SE","t":2020,"v":7.4},{"c":"SE","t":2020.5,"v":9.0},{"c":"SE","t":2021,"v":8.8},{"c":"SE","t":2021.5,"v":8.8},{"c":"SE","t":2022,"v":7.6},{"c":"SE","t":2022.5,"v":7.4},{"c":"SE","t":2023,"v":7.6},{"c":"SE","t":2023.75,"v":8.2},
{"c":"HU","t":2000,"v":6.6},{"c":"HU","t":2000.5,"v":6.4},{"c":"HU","t":2001,"v":5.8},{"c":"HU","t":2001.5,"v":5.6},{"c":"HU","t":2002,"v":5.7},{"c":"HU","t":2002.5,"v":5.8},{"c":"HU","t":2003,"v":5.7},{"c":"HU","t":2003.5,"v":5.9},{"c":"HU","t":2004,"v":5.9},{"c":"HU","t":2004.5,"v":6.1},{"c":"HU","t":2005,"v":6.9},{"c":"HU","t":2005.5,"v":7.2},{"c":"HU","t":2006,"v":7.4},{"c":"HU","t":2006.5,"v":7.6},{"c":"HU","t":2007,"v":7.3},{"c":"HU","t":2007.5,"v":7.4},{"c":"HU","t":2008,"v":7.7},{"c":"HU","t":2008.5,"v":7.9},{"c":"HU","t":2009,"v":9.3},{"c":"HU","t":2009.5,"v":10.1},{"c":"HU","t":2010,"v":11.0},{"c":"HU","t":2010.5,"v":11.2},{"c":"HU","t":2011,"v":11.0},{"c":"HU","t":2011.5,"v":10.8},{"c":"HU","t":2012,"v":11.1},{"c":"HU","t":2012.5,"v":11.0},{"c":"HU","t":2013,"v":10.8},{"c":"HU","t":2013.5,"v":10.0},{"c":"HU","t":2014,"v":8.5},{"c":"HU","t":2014.5,"v":7.7},{"c":"HU","t":2015,"v":7.4},{"c":"HU","t":2015.5,"v":6.8},{"c":"HU","t":2016,"v":5.9},{"c":"HU","t":2016.5,"v":5.2},{"c":"HU","t":2017,"v":4.5},{"c":"HU","t":2017.5,"v":4.2},{"c":"HU","t":2018,"v":3.8},{"c":"HU","t":2018.5,"v":3.6},{"c":"HU","t":2019,"v":3.5},{"c":"HU","t":2019.5,"v":3.4},{"c":"HU","t":2020,"v":3.6},{"c":"HU","t":2020.5,"v":4.5},{"c":"HU","t":2021,"v":4.3},{"c":"HU","t":2021.5,"v":4.0},{"c":"HU","t":2022,"v":3.7},{"c":"HU","t":2022.5,"v":3.6},{"c":"HU","t":2023,"v":4.1},{"c":"HU","t":2023.75,"v":4.5},
{"c":"RO","t":2000,"v":7.3},{"c":"RO","t":2000.5,"v":7.2},{"c":"RO","t":2001,"v":6.8},{"c":"RO","t":2001.5,"v":6.9},{"c":"RO","t":2002,"v":8.4},{"c":"RO","t":2002.5,"v":8.2},{"c":"RO","t":2003,"v":7.4},{"c":"RO","t":2003.5,"v":7.2},{"c":"RO","t":2004,"v":7.7},{"c":"RO","t":2004.5,"v":8.2},{"c":"RO","t":2005,"v":7.4},{"c":"RO","t":2005.5,"v":7.2},{"c":"RO","t":2006,"v":7.3},{"c":"RO","t":2006.5,"v":7.3},{"c":"RO","t":2007,"v":6.7},{"c":"RO","t":2007.5,"v":6.4},{"c":"RO","t":2008,"v":5.8},{"c":"RO","t":2008.5,"v":5.7},{"c":"RO","t":2009,"v":6.5},{"c":"RO","t":2009.5,"v":7.0},{"c":"RO","t":2010,"v":7.1},{"c":"RO","t":2010.5,"v":7.2},{"c":"RO","t":2011,"v":7.3},{"c":"RO","t":2011.5,"v":7.1},{"c":"RO","t":2012,"v":6.9},{"c":"RO","t":2012.5,"v":6.8},{"c":"RO","t":2013,"v":7.1},{"c":"RO","t":2013.5,"v":7.0},{"c":"RO","t":2014,"v":6.9},{"c":"RO","t":2014.5,"v":6.8},{"c":"RO","t":2015,"v":6.8},{"c":"RO","t":2015.5,"v":6.8},{"c":"RO","t":2016,"v":6.2},{"c":"RO","t":2016.5,"v":5.8},{"c":"RO","t":2017,"v":5.0},{"c":"RO","t":2017.5,"v":4.8},{"c":"RO","t":2018,"v":4.3},{"c":"RO","t":2018.5,"v":4.2},{"c":"RO","t":2019,"v":3.9},{"c":"RO","t":2019.5,"v":3.9},{"c":"RO","t":2020,"v":4.0},{"c":"RO","t":2020.5,"v":5.3},{"c":"RO","t":2021,"v":5.5},{"c":"RO","t":2021.5,"v":5.6},{"c":"RO","t":2022,"v":5.7},{"c":"RO","t":2022.5,"v":5.6},{"c":"RO","t":2023,"v":5.5},{"c":"RO","t":2023.75,"v":5.5},
{"c":"AT","t":2000,"v":4.6},{"c":"AT","t":2000.5,"v":4.3},{"c":"AT","t":2001,"v":4.0},{"c":"AT","t":2001.5,"v":4.2},{"c":"AT","t":2002,"v":4.6},{"c":"AT","t":2002.5,"v":4.9},{"c":"AT","t":2003,"v":4.9},{"c":"AT","t":2003.5,"v":5.0},{"c":"AT","t":2004,"v":5.5},{"c":"AT","t":2004.5,"v":5.6},{"c":"AT","t":2005,"v":5.6},{"c":"AT","t":2005.5,"v":5.7},{"c":"AT","t":2006,"v":5.5},{"c":"AT","t":2006.5,"v":5.2},{"c":"AT","t":2007,"v":5.0},{"c":"AT","t":2007.5,"v":4.8},{"c":"AT","t":2008,"v":4.3},{"c":"AT","t":2008.5,"v":4.1},{"c":"AT","t":2009,"v":5.0},{"c":"AT","t":2009.5,"v":5.6},{"c":"AT","t":2010,"v":5.1},{"c":"AT","t":2010.5,"v":4.8},{"c":"AT","t":2011,"v":4.6},{"c":"AT","t":2011.5,"v":4.7},{"c":"AT","t":2012,"v":4.8},{"c":"AT","t":2012.5,"v":5.0},{"c":"AT","t":2013,"v":5.3},{"c":"AT","t":2013.5,"v":5.4},{"c":"AT","t":2014,"v":5.6},{"c":"AT","t":2014.5,"v":5.7},{"c":"AT","t":2015,"v":5.8},{"c":"AT","t":2015.5,"v":6.0},{"c":"AT","t":2016,"v":6.2},{"c":"AT","t":2016.5,"v":6.0},{"c":"AT","t":2017,"v":5.6},{"c":"AT","t":2017.5,"v":5.5},{"c":"AT","t":2018,"v":5.1},{"c":"AT","t":2018.5,"v":4.8},{"c":"AT","t":2019,"v":4.7},{"c":"AT","t":2019.5,"v":4.6},{"c":"AT","t":2020,"v":4.7},{"c":"AT","t":2020.5,"v":5.8},{"c":"AT","t":2021,"v":6.5},{"c":"AT","t":2021.5,"v":6.0},{"c":"AT","t":2022,"v":4.6},{"c":"AT","t":2022.5,"v":4.8},{"c":"AT","t":2023,"v":5.0},{"c":"AT","t":2023.75,"v":5.3},
{"c":"DK","t":2000,"v":4.4},{"c":"DK","t":2000.5,"v":4.3},{"c":"DK","t":2001,"v":4.5},{"c":"DK","t":2001.5,"v":4.5},{"c":"DK","t":2002,"v":4.6},{"c":"DK","t":2002.5,"v":4.7},{"c":"DK","t":2003,"v":5.3},{"c":"DK","t":2003.5,"v":5.5},{"c":"DK","t":2004,"v":5.6},{"c":"DK","t":2004.5,"v":5.6},{"c":"DK","t":2005,"v":5.2},{"c":"DK","t":2005.5,"v":4.8},{"c":"DK","t":2006,"v":4.2},{"c":"DK","t":2006.5,"v":3.9},{"c":"DK","t":2007,"v":3.9},{"c":"DK","t":2007.5,"v":3.8},{"c":"DK","t":2008,"v":3.3},{"c":"DK","t":2008.5,"v":3.3},{"c":"DK","t":2009,"v":4.6},{"c":"DK","t":2009.5,"v":6.2},{"c":"DK","t":2010,"v":7.3},{"c":"DK","t":2010.5,"v":7.6},{"c":"DK","t":2011,"v":7.5},{"c":"DK","t":2011.5,"v":7.6},{"c":"DK","t":2012,"v":7.6},{"c":"DK","t":2012.5,"v":7.5},{"c":"DK","t":2013,"v":7.1},{"c":"DK","t":2013.5,"v":7.0},{"c":"DK","t":2014,"v":6.7},{"c":"DK","t":2014.5,"v":6.6},{"c":"DK","t":2015,"v":6.3},{"c":"DK","t":2015.5,"v":6.2},{"c":"DK","t":2016,"v":6.1},{"c":"DK","t":2016.5,"v":5.9},{"c":"DK","t":2017,"v":5.8},{"c":"DK","t":2017.5,"v":5.7},{"c":"DK","t":2018,"v":5.2},{"c":"DK","t":2018.5,"v":5.1},{"c":"DK","t":2019,"v":5.0},{"c":"DK","t":2019.5,"v":4.9},{"c":"DK","t":2020,"v":4.9},{"c":"DK","t":2020.5,"v":5.9},{"c":"DK","t":2021,"v":5.5},{"c":"DK","t":2021.5,"v":5.0},{"c":"DK","t":2022,"v":4.4},{"c":"DK","t":2022.5,"v":4.5},{"c":"DK","t":2023,"v":4.8},{"c":"DK","t":2023.75,"v":5.2},
{"c":"IE","t":2000,"v":4.3},{"c":"IE","t":2000.5,"v":4.2},{"c":"IE","t":2001,"v":3.8},{"c":"IE","t":2001.5,"v":3.9},{"c":"IE","t":2002,"v":4.4},{"c":"IE","t":2002.5,"v":4.6},{"c":"IE","t":2003,"v":4.6},{"c":"IE","t":2003.5,"v":4.7},{"c":"IE","t":2004,"v":4.5},{"c":"IE","t":2004.5,"v":4.5},{"c":"IE","t":2005,"v":4.4},{"c":"IE","t":2005.5,"v":4.4},{"c":"IE","t":2006,"v":4.5},{"c":"IE","t":2006.5,"v":4.5},{"c":"IE","t":2007,"v":4.5},{"c":"IE","t":2007.5,"v":4.7},{"c":"IE","t":2008,"v":5.0},{"c":"IE","t":2008.5,"v":6.5},{"c":"IE","t":2009,"v":9.0},{"c":"IE","t":2009.5,"v":12.0},{"c":"IE","t":2010,"v":13.5},{"c":"IE","t":2010.5,"v":14.2},{"c":"IE","t":2011,"v":14.6},{"c":"IE","t":2011.5,"v":15.0},{"c":"IE","t":2012,"v":15.3},{"c":"IE","t":2012.5,"v":15.5},{"c":"IE","t":2013,"v":14.5},{"c":"IE","t":2013.5,"v":13.5},{"c":"IE","t":2014,"v":12.2},{"c":"IE","t":2014.5,"v":11.3},{"c":"IE","t":2015,"v":10.4},{"c":"IE","t":2015.5,"v":9.7},{"c":"IE","t":2016,"v":8.8},{"c":"IE","t":2016.5,"v":8.1},{"c":"IE","t":2017,"v":6.9},{"c":"IE","t":2017.5,"v":6.5},{"c":"IE","t":2018,"v":5.9},{"c":"IE","t":2018.5,"v":5.6},{"c":"IE","t":2019,"v":5.1},{"c":"IE","t":2019.5,"v":5.0},{"c":"IE","t":2020,"v":4.9},{"c":"IE","t":2020.5,"v":6.5},{"c":"IE","t":2021,"v":7.0},{"c":"IE","t":2021.5,"v":6.5},{"c":"IE","t":2022,"v":4.6},{"c":"IE","t":2022.5,"v":4.4},{"c":"IE","t":2023,"v":4.3},{"c":"IE","t":2023.75,"v":4.5},
{"c":"NL","t":2000,"v":3.9},{"c":"NL","t":2000.5,"v":3.4},{"c":"NL","t":2001,"v":3.0},{"c":"NL","t":2001.5,"v":2.9},{"c":"NL","t":2002,"v":3.3},{"c":"NL","t":2002.5,"v":3.6},{"c":"NL","t":2003,"v":4.2},{"c":"NL","t":2003.5,"v":4.6},{"c":"NL","t":2004,"v":5.2},{"c":"NL","t":2004.5,"v":5.4},{"c":"NL","t":2005,"v":5.5},{"c":"NL","t":2005.5,"v":5.3},{"c":"NL","t":2006,"v":4.8},{"c":"NL","t":2006.5,"v":4.5},{"c":"NL","t":2007,"v":3.9},{"c":"NL","t":2007.5,"v":3.6},{"c":"NL","t":2008,"v":3.2},{"c":"NL","t":2008.5,"v":3.0},{"c":"NL","t":2009,"v":3.4},{"c":"NL","t":2009.5,"v":4.0},{"c":"NL","t":2010,"v":4.6},{"c":"NL","t":2010.5,"v":5.0},{"c":"NL","t":2011,"v":5.0},{"c":"NL","t":2011.5,"v":5.2},{"c":"NL","t":2012,"v":5.6},{"c":"NL","t":2012.5,"v":6.0},{"c":"NL","t":2013,"v":6.9},{"c":"NL","t":2013.5,"v":7.3},{"c":"NL","t":2014,"v":7.5},{"c":"NL","t":2014.5,"v":7.2},{"c":"NL","t":2015,"v":6.9},{"c":"NL","t":2015.5,"v":6.8},{"c":"NL","t":2016,"v":6.4},{"c":"NL","t":2016.5,"v":6.0},{"c":"NL","t":2017,"v":5.3},{"c":"NL","t":2017.5,"v":4.8},{"c":"NL","t":2018,"v":4.1},{"c":"NL","t":2018.5,"v":3.9},{"c":"NL","t":2019,"v":3.5},{"c":"NL","t":2019.5,"v":3.4},{"c":"NL","t":2020,"v":3.0},{"c":"NL","t":2020.5,"v":4.3},{"c":"NL","t":2021,"v":3.9},{"c":"NL","t":2021.5,"v":3.3},{"c":"NL","t":2022,"v":3.5},{"c":"NL","t":2022.5,"v":3.6},{"c":"NL","t":2023,"v":3.5},{"c":"NL","t":2023.75,"v":3.6},
{"c":"LU","t":2000,"v":2.3},{"c":"LU","t":2000.5,"v":2.3},{"c":"LU","t":2001,"v":1.85},{"c":"LU","t":2001.5,"v":1.75},{"c":"LU","t":2002,"v":1.95},{"c":"LU","t":2002.3,"v":2.2},{"c":"LU","t":2002.65,"v":2.6},{"c":"LU","t":2003,"v":2.85},{"c":"LU","t":2003.3,"v":3.2},{"c":"LU","t":2003.65,"v":3.5},{"c":"LU","t":2004,"v":3.8},{"c":"LU","t":2004.5,"v":4.3},{"c":"LU","t":2005,"v":4.6},{"c":"LU","t":2005.5,"v":4.7},{"c":"LU","t":2006,"v":4.7},{"c":"LU","t":2006.5,"v":4.7},{"c":"LU","t":2007,"v":4.3},{"c":"LU","t":2007.5,"v":4.2},{"c":"LU","t":2008,"v":4.5},{"c":"LU","t":2008.5,"v":4.8},{"c":"LU","t":2009,"v":5.3},{"c":"LU","t":2009.5,"v":5.6},{"c":"LU","t":2010,"v":4.7},{"c":"LU","t":2010.5,"v":4.7},{"c":"LU","t":2011,"v":4.8},{"c":"LU","t":2011.5,"v":4.9},{"c":"LU","t":2012,"v":5.1},{"c":"LU","t":2012.5,"v":5.3},{"c":"LU","t":2013,"v":5.8},{"c":"LU","t":2013.5,"v":6.0},{"c":"LU","t":2014,"v":6.0},{"c":"LU","t":2014.5,"v":5.9},{"c":"LU","t":2015,"v":6.6},{"c":"LU","t":2015.5,"v":6.4},{"c":"LU","t":2016,"v":6.3},{"c":"LU","t":2016.5,"v":6.3},{"c":"LU","t":2017,"v":5.6},{"c":"LU","t":2017.5,"v":5.5},{"c":"LU","t":2018,"v":5.4},{"c":"LU","t":2018.5,"v":5.5},{"c":"LU","t":2019,"v":5.6},{"c":"LU","t":2019.5,"v":5.6},{"c":"LU","t":2020,"v":5.9},{"c":"LU","t":2020.5,"v":7.0},{"c":"LU","t":2021,"v":6.4},{"c":"LU","t":2021.5,"v":5.7},{"c":"LU","t":2022,"v":4.7},{"c":"LU","t":2022.5,"v":4.7},{"c":"LU","t":2023,"v":5.2},{"c":"LU","t":2023.75,"v":5.6},
{"c":"SI","t":2000,"v":6.9},{"c":"SI","t":2000.5,"v":6.6},{"c":"SI","t":2001,"v":6.2},{"c":"SI","t":2001.5,"v":6.0},{"c":"SI","t":2002,"v":6.4},{"c":"SI","t":2002.5,"v":6.2},{"c":"SI","t":2003,"v":6.7},{"c":"SI","t":2003.5,"v":6.6},{"c":"SI","t":2004,"v":6.2},{"c":"SI","t":2004.5,"v":6.3},{"c":"SI","t":2005,"v":6.7},{"c":"SI","t":2005.5,"v":6.5},{"c":"SI","t":2006,"v":6.1},{"c":"SI","t":2006.5,"v":6.0},{"c":"SI","t":2007,"v":5.2},{"c":"SI","t":2007.5,"v":4.8},{"c":"SI","t":2008,"v":4.4},{"c":"SI","t":2008.5,"v":4.2},{"c":"SI","t":2009,"v":5.5},{"c":"SI","t":2009.5,"v":6.0},{"c":"SI","t":2010,"v":6.9},{"c":"SI","t":2010.5,"v":7.4},{"c":"SI","t":2011,"v":8.0},{"c":"SI","t":2011.5,"v":8.2},{"c":"SI","t":2012,"v":8.6},{"c":"SI","t":2012.5,"v":9.0},{"c":"SI","t":2013,"v":10.2},{"c":"SI","t":2013.5,"v":10.4},{"c":"SI","t":2014,"v":9.7},{"c":"SI","t":2014.5,"v":9.7},{"c":"SI","t":2015,"v":9.3},{"c":"SI","t":2015.5,"v":9.0},{"c":"SI","t":2016,"v":8.3},{"c":"SI","t":2016.5,"v":8.0},{"c":"SI","t":2017,"v":6.9},{"c":"SI","t":2017.5,"v":6.6},{"c":"SI","t":2018,"v":5.3},{"c":"SI","t":2018.5,"v":5.1},{"c":"SI","t":2019,"v":4.5},{"c":"SI","t":2019.5,"v":4.4},{"c":"SI","t":2020,"v":4.4},{"c":"SI","t":2020.5,"v":5.3},{"c":"SI","t":2021,"v":5.0},{"c":"SI","t":2021.5,"v":4.6},{"c":"SI","t":2022,"v":4.1},{"c":"SI","t":2022.5,"v":4.0},{"c":"SI","t":2023,"v":3.7},{"c":"SI","t":2023.75,"v":3.4},
{"c":"MT","t":2000,"v":6.8},{"c":"MT","t":2000.5,"v":7.2},{"c":"MT","t":2001,"v":7.4},{"c":"MT","t":2001.5,"v":7.6},{"c":"MT","t":2002,"v":7.2},{"c":"MT","t":2002.5,"v":7.1},{"c":"MT","t":2003,"v":7.4},{"c":"MT","t":2003.5,"v":7.6},{"c":"MT","t":2004,"v":7.3},{"c":"MT","t":2004.5,"v":7.2},{"c":"MT","t":2005,"v":7.1},{"c":"MT","t":2005.5,"v":6.9},{"c":"MT","t":2006,"v":6.9},{"c":"MT","t":2006.5,"v":6.8},{"c":"MT","t":2007,"v":6.6},{"c":"MT","t":2007.5,"v":6.4},{"c":"MT","t":2008,"v":6.0},{"c":"MT","t":2008.5,"v":6.0},{"c":"MT","t":2009,"v":6.5},{"c":"MT","t":2009.5,"v":6.9},{"c":"MT","t":2010,"v":6.9},{"c":"MT","t":2010.5,"v":6.8},{"c":"MT","t":2011,"v":6.4},{"c":"MT","t":2011.5,"v":6.3},{"c":"MT","t":2012,"v":6.2},{"c":"MT","t":2012.5,"v":6.1},{"c":"MT","t":2013,"v":6.3},{"c":"MT","t":2013.5,"v":6.2},{"c":"MT","t":2014,"v":5.8},{"c":"MT","t":2014.5,"v":5.6},{"c":"MT","t":2015,"v":5.4},{"c":"MT","t":2015.5,"v":5.3},{"c":"MT","t":2016,"v":4.9},{"c":"MT","t":2016.5,"v":4.6},{"c":"MT","t":2017,"v":4.3},{"c":"MT","t":2017.5,"v":4.0},{"c":"MT","t":2018,"v":3.8},{"c":"MT","t":2018.5,"v":3.6},{"c":"MT","t":2019,"v":3.6},{"c":"MT","t":2019.5,"v":3.4},{"c":"MT","t":2020,"v":3.8},{"c":"MT","t":2020.5,"v":4.8},{"c":"MT","t":2021,"v":3.8},{"c":"MT","t":2021.5,"v":3.4},{"c":"MT","t":2022,"v":3.1},{"c":"MT","t":2022.5,"v":2.9},{"c":"MT","t":2023,"v":2.7},{"c":"MT","t":2023.75,"v":2.6},
{"c":"PL","t":2000,"v":11.7},{"c":"PL","t":2000.5,"v":11.0},{"c":"PL","t":2001,"v":10.8},{"c":"PL","t":2001.5,"v":10.8},{"c":"PL","t":2002,"v":11.0},{"c":"PL","t":2002.5,"v":10.8},{"c":"PL","t":2003,"v":10.2},{"c":"PL","t":2003.5,"v":9.8},{"c":"PL","t":2004,"v":9.6},{"c":"PL","t":2004.5,"v":10.2},{"c":"PL","t":2005,"v":9.8},{"c":"PL","t":2005.5,"v":9.5},{"c":"PL","t":2006,"v":8.8},{"c":"PL","t":2006.5,"v":8.0},{"c":"PL","t":2007,"v":7.2},{"c":"PL","t":2007.5,"v":6.6},{"c":"PL","t":2008,"v":6.4},{"c":"PL","t":2008.5,"v":6.6},{"c":"PL","t":2009,"v":7.8},{"c":"PL","t":2009.5,"v":8.4},{"c":"PL","t":2010,"v":9.6},{"c":"PL","t":2010.5,"v":9.7},{"c":"PL","t":2011,"v":9.6},{"c":"PL","t":2011.5,"v":9.7},{"c":"PL","t":2012,"v":10.0},{"c":"PL","t":2012.5,"v":10.2},{"c":"PL","t":2013,"v":10.6},{"c":"PL","t":2013.5,"v":10.3},{"c":"PL","t":2014,"v":9.5},{"c":"PL","t":2014.5,"v":8.8},{"c":"PL","t":2015,"v":7.9},{"c":"PL","t":2015.5,"v":7.4},{"c":"PL","t":2016,"v":6.6},{"c":"PL","t":2016.5,"v":6.1},{"c":"PL","t":2017,"v":5.3},{"c":"PL","t":2017.5,"v":4.9},{"c":"PL","t":2018,"v":4.0},{"c":"PL","t":2018.5,"v":3.8},{"c":"PL","t":2019,"v":3.5},{"c":"PL","t":2019.5,"v":3.2},{"c":"PL","t":2020,"v":3.1},{"c":"PL","t":2020.5,"v":3.2},{"c":"PL","t":2021,"v":3.4},{"c":"PL","t":2021.5,"v":3.3},{"c":"PL","t":2022,"v":3.0},{"c":"PL","t":2022.5,"v":2.8},{"c":"PL","t":2023,"v":2.8},{"c":"PL","t":2023.75,"v":2.9}
],
"main":[
{"c":"CZ","t":2000,"v":9.3},{"c":"CZ","t":2000.17,"v":8.98},{"c":"CZ","t":2000.43,"v":8.5},{"c":"CZ","t":2000.74,"v":8.19},{"c":"CZ","t":2001,"v":8.2},{"c":"CZ","t":2001.22,"v":8.02},{"c":"CZ","t":2001.48,"v":7.96},{"c":"CZ","t":2001.64,"v":8.13},{"c":"CZ","t":2001.79,"v":7.73},{"c":"CZ","t":2001.95,"v":8.02},{"c":"CZ","t":2002.05,"v":7.42},{"c":"CZ","t":2002.21,"v":7.59},{"c":"CZ","t":2002.31,"v":6.94},{"c":"CZ","t":2002.52,"v":7.11},{"c":"CZ","t":2002.83,"v":7.0},{"c":"CZ","t":2003.04,"v":7.25},{"c":"CZ","t":2003.3,"v":7.42},{"c":"CZ","t":2003.41,"v":7.79},{"c":"CZ","t":2003.62,"v":7.85},{"c":"CZ","t":2003.93,"v":8.33},{"c":"CZ","t":2004.15,"v":8.67},{"c":"CZ","t":2004.3,"v":8.33},{"c":"CZ","t":2004.5,"v":8.07},{"c":"CZ","t":2004.72,"v":8.44},{"c":"CZ","t":2004.82,"v":7.9},{"c":"CZ","t":2004.98,"v":8.19},{"c":"CZ","t":2005.19,"v":7.79},{"c":"CZ","t":2005.4,"v":8.13},{"c":"CZ","t":2005.55,"v":7.79},{"c":"CZ","t":2005.76,"v":7.9},{"c":"CZ","t":2006.02,"v":7.96},{"c":"CZ","t":2006.13,"v":7.42},{"c":"CZ","t":2006.33,"v":7.42},{"c":"CZ","t":2006.44,"v":7.06},{"c":"CZ","t":2006.7,"v":7.2},{"c":"CZ","t":2006.8,"v":6.46},{"c":"CZ","t":2006.96,"v":6.24},{"c":"CZ","t":2007.13,"v":5.81},{"c":"CZ","t":2007.27,"v":5.53},{"c":"CZ","t":2007.49,"v":5.39},{"c":"CZ","t":2007.65,"v":5.05},{"c":"CZ","t":2007.8,"v":5.0},{"c":"CZ","t":2007.94,"v":4.71},{"c":"CZ","t":2008.16,"v":4.46},{"c":"CZ","t":2008.3,"v":4.29},{"c":"CZ","t":2008.45,"v":4.45},{"c":"CZ","t":2008.57,"v":4.0},{"c":"CZ","t":2008.71,"v":4.37},{"c":"CZ","t":2008.83,"v":4.18},{"c":"CZ","t":2009.04,"v":5.3},{"c":"CZ","t":2009.25,"v":6.0},{"c":"CZ","t":2009.35,"v":6.49},{"c":"CZ","t":2009.56,"v":7.45},{"c":"CZ","t":2009.72,"v":7.34},{"c":"CZ","t":2009.93,"v":7.39},{"c":"CZ","t":2010.08,"v":7.82},{"c":"CZ","t":2010.29,"v":7.45},{"c":"CZ","t":2010.5,"v":7.14},{"c":"CZ","t":2010.7,"v":7.1},{"c":"CZ","t":2010.92,"v":6.75},{"c":"CZ","t":2011.12,"v":6.97},{"c":"CZ","t":2011.45,"v":6.63},{"c":"CZ","t":2011.65,"v":6.38},{"c":"CZ","t":2011.91,"v":6.49},{"c":"CZ","t":2012.07,"v":7.08},{"c":"CZ","t":2012.33,"v":6.86},{"c":"CZ","t":2012.59,"v":7.14},{"c":"CZ","t":2012.72,"v":6.9},{"c":"CZ","t":2012.85,"v":7.56},{"c":"CZ","t":2013.01,"v":6.86},{"c":"CZ","t":2013.11,"v":7.45},{"c":"CZ","t":2013.27,"v":6.86},{"c":"CZ","t":2013.4,"v":7.2},{"c":"CZ","t":2013.53,"v":6.49},{"c":"CZ","t":2013.69,"v":7.14},{"c":"CZ","t":2013.84,"v":6.55},{"c":"CZ","t":2014.15,"v":6.69},{"c":"CZ","t":2014.31,"v":6.15},{"c":"CZ","t":2014.52,"v":5.9},{"c":"CZ","t":2014.65,"v":6.2},{"c":"CZ","t":2014.79,"v":5.56},{"c":"CZ","t":2014.92,"v":6.0},{"c":"CZ","t":2015.05,"v":5.62},{"c":"CZ","t":2015.26,"v":4.83},{"c":"CZ","t":2015.57,"v":4.71},{"c":"CZ","t":2015.92,"v":4.49},{"c":"CZ","t":2016.1,"v":4.4},{"c":"CZ","t":2016.29,"v":4.01},{"c":"CZ","t":2016.45,"v":4.23},{"c":"CZ","t":2016.6,"v":3.64},{"c":"CZ","t":2016.97,"v":3.36},{"c":"CZ","t":2017.33,"v":2.94},{"c":"CZ","t":2017.64,"v":2.65},{"c":"CZ","t":2017.85,"v":2.29},{"c":"CZ","t":2018,"v":2.4},{"c":"CZ","t":2018.16,"v":2.06},{"c":"CZ","t":2018.4,"v":2.3},{"c":"CZ","t":2018.58,"v":2.17},{"c":"CZ","t":2018.79,"v":1.72},{"c":"CZ","t":2018.95,"v":2.09},{"c":"CZ","t":2019.11,"v":1.78},{"c":"CZ","t":2019.32,"v":2.06},{"c":"CZ","t":2019.45,"v":1.75},{"c":"CZ","t":2019.58,"v":2.12},{"c":"CZ","t":2019.84,"v":2.17},{"c":"CZ","t":2019.98,"v":1.75},{"c":"CZ","t":2020.1,"v":1.75},{"c":"CZ","t":2020.31,"v":2.46},{"c":"CZ","t":2020.5,"v":2.99},{"c":"CZ","t":2020.62,"v":2.7},{"c":"CZ","t":2020.78,"v":3.16},{"c":"CZ","t":2020.99,"v":3.3},{"c":"CZ","t":2021.2,"v":3.36},{"c":"CZ","t":2021.4,"v":2.57},{"c":"CZ","t":2021.61,"v":2.77},{"c":"CZ","t":2021.87,"v":2.12},{"c":"CZ","t":2022.13,"v":2.46},{"c":"CZ","t":2022.3,"v":2.3},{"c":"CZ","t":2022.5,"v":2.29},{"c":"CZ","t":2022.65,"v":2.5},{"c":"CZ","t":2022.77,"v":2.12},{"c":"CZ","t":2022.95,"v":2.5},{"c":"CZ","t":2023.08,"v":2.46},{"c":"CZ","t":2023.29,"v":2.71},{"c":"CZ","t":2023.45,"v":2.5},{"c":"CZ","t":2023.6,"v":2.82},{"c":"CZ","t":2023.75,"v":3.05},
{"c":"EA","t":2000,"v":9.4},{"c":"EA","t":2000.27,"v":9.2},{"c":"EA","t":2000.65,"v":8.98},{"c":"EA","t":2001.12,"v":8.5},{"c":"EA","t":2001.74,"v":8.47},{"c":"EA","t":2002.16,"v":8.6},{"c":"EA","t":2002.63,"v":8.83},{"c":"EA","t":2003.1,"v":9.09},{"c":"EA","t":2003.82,"v":9.2},{"c":"EA","t":2004.08,"v":9.37},{"c":"EA","t":2004.93,"v":9.37},{"c":"EA","t":2005.29,"v":9.3},{"c":"EA","t":2005.76,"v":9.2},{"c":"EA","t":2006.07,"v":8.98},{"c":"EA","t":2006.54,"v":8.44},{"c":"EA","t":2006.91,"v":8.19},{"c":"EA","t":2007.39,"v":7.73},{"c":"EA","t":2007.8,"v":7.48},{"c":"EA","t":2008.2,"v":7.28},{"c":"EA","t":2008.52,"v":7.5},{"c":"EA","t":2008.78,"v":7.8},{"c":"EA","t":2008.99,"v":8.4},{"c":"EA","t":2009.2,"v":9.23},{"c":"EA","t":2009.51,"v":9.7},{"c":"EA","t":2009.87,"v":10.19},{"c":"EA","t":2010.29,"v":10.36},{"c":"EA","t":2010.76,"v":10.3},{"c":"EA","t":2011.28,"v":9.93},{"c":"EA","t":2011.65,"v":10.3},{"c":"EA","t":2012.12,"v":11.06},{"c":"EA","t":2012.59,"v":11.6},{"c":"EA","t":2012.9,"v":12.02},{"c":"EA","t":2013.11,"v":12.2},{"c":"EA","t":2013.48,"v":12.14},{"c":"EA","t":2013.95,"v":12.08},{"c":"EA","t":2014.37,"v":11.74},{"c":"EA","t":2014.62,"v":11.49},{"c":"EA","t":2014.83,"v":11.6},{"c":"EA","t":2015.2,"v":11.26},{"c":"EA","t":2015.52,"v":10.84},{"c":"EA","t":2015.98,"v":10.53},{"c":"EA","t":2016.19,"v":10.42},{"c":"EA","t":2016.76,"v":9.94},{"c":"EA","t":2017.28,"v":9.23},{"c":"EA","t":2017.9,"v":8.64},{"c":"EA","t":2018.58,"v":7.93},{"c":"EA","t":2019.22,"v":7.62},{"c":"EA","t":2019.89,"v":7.51},{"c":"EA","t":2020.15,"v":7.14},{"c":"EA","t":2020.36,"v":7.56},{"c":"EA","t":2020.57,"v":8.58},{"c":"EA","t":2020.78,"v":8.52},{"c":"EA","t":2020.88,"v":8.16},{"c":"EA","t":2021.3,"v":8.16},{"c":"EA","t":2021.67,"v":7.34},{"c":"EA","t":2022.08,"v":6.75},{"c":"EA","t":2022.35,"v":6.55},{"c":"EA","t":2022.72,"v":6.55},{"c":"EA","t":2022.92,"v":6.69},{"c":"EA","t":2023.18,"v":6.38},{"c":"EA","t":2023.5,"v":6.55},{"c":"EA","t":2023.75,"v":6.43}
],
"note":[{"t":2006.31,"v":30.45,"label":"Vstup ČR do EU"}],
"arrow":[{"t":2004.85,"v":29.49,"v2":20.7,"vh":20.15}]
},
"layer":[
{"data":{"name":"gray"},
"mark":{"type":"line","color":"#c0c0c0","strokeWidth":11,"strokeJoin":"round","strokeCap":"round","clip":true},
"encoding":{
"x":{"field":"t","type":"quantitative","scale":{"domain":[2000,2023.75],"nice":false,"zero":false},
"axis":{"values":[2000,2002,2004,2006,2008,2010,2012,2014,2016,2018,2020,2022],"labelExpr":"slice('0' + (datum.value - 2000), -2)","title":null,"grid":true,"gridColor":"#d0d0d0","gridWidth":4,"domainColor":"#000000","domainWidth":4,"ticks":false,"labelFontSize":68,"labelPadding":52,"labelColor":"#000000","labelFont":"Liberation Sans","labelFlush":false,"labelOverlap":false}},
"y":{"field":"v","type":"quantitative","scale":{"domain":[0,30],"nice":false,"zero":true},
"axis":{"values":[0,5,10,15,20,25,30],"title":null,"grid":true,"gridColor":"#d0d0d0","gridWidth":4,"domainColor":"#000000","domainWidth":3,"ticks":false,"labelFontSize":69,"labelPadding":58,"labelColor":"#000000","labelFont":"Liberation Sans","labelFlush":false,"labelOverlap":false}},
"detail":{"field":"c","type":"nominal"}}},
{"data":{"name":"main"},
"mark":{"type":"line","strokeWidth":13.5,"strokeJoin":"round","strokeCap":"round","clip":true},
"encoding":{
"x":{"field":"t","type":"quantitative"},
"y":{"field":"v","type":"quantitative"},
"color":{"field":"c","type":"nominal","scale":{"domain":["CZ","EA"],"range":["#d42b1f","#2424a8"]},
"legend":{"orient":"none","legendX":335,"legendY":1173,"direction":"horizontal","title":null,"symbolType":"stroke","symbolSize":38416,"symbolStrokeWidth":14,"labelFontSize":70,"labelFontWeight":"bold","labelFont":"Liberation Sans","labelColor":"#000000","labelOffset":5,"columnPadding":392,"padding":0,"labelLimit":0}}}},
{"data":{"name":"arrow"},
"mark":{"type":"rule","color":"#2424a8","strokeWidth":17,"strokeCap":"butt"},
"encoding":{"x":{"field":"t","type":"quantitative"},"y":{"field":"v","type":"quantitative"},"y2":{"field":"v2"}}},
{"data":{"name":"arrow"},
"mark":{"type":"point","shape":"M-1,-1L1,-1L0,1Z","filled":true,"color":"#2424a8","opacity":1,"size":2256,"strokeWidth":0},
"encoding":{"x":{"field":"t","type":"quantitative"},"y":{"field":"vh","type":"quantitative"}}},
{"data":{"name":"note"},
"mark":{"type":"text","color":"#2424a8","fontSize":48,"fontWeight":"bold","font":"Liberation Sans","align":"center","baseline":"alphabetic"},
"encoding":{"x":{"field":"t","type":"quantitative"},"y":{"field":"v","type":"quantitative"},"text":{"field":"label"}}}
]
}
